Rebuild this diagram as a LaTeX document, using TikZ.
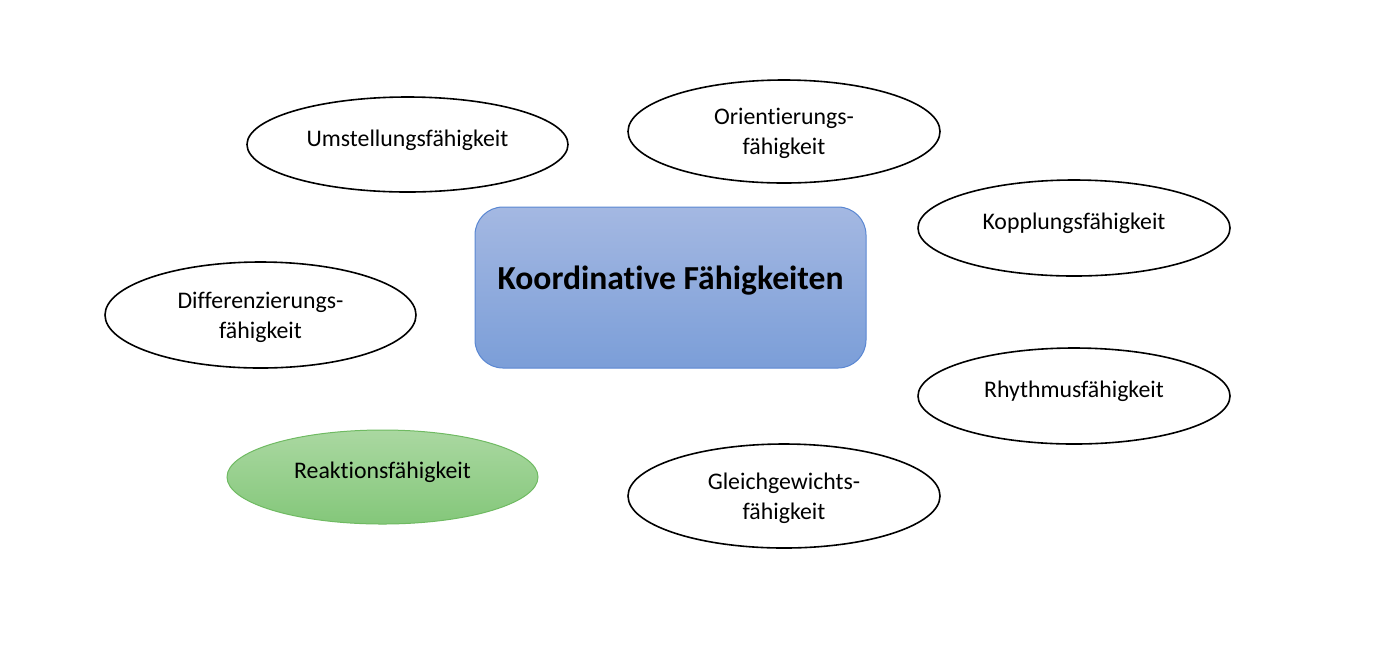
\documentclass[tikz,border=0pt]{standalone}
\usepackage{fontspec}
\setmainfont[Ligatures={NoCommon}]{Carlito}
\usetikzlibrary{shapes.geometric}
\definecolor{boxtop}{HTML}{A4B8E2}
\definecolor{boxbot}{HTML}{7B9ED8}
\definecolor{boxline}{HTML}{5A87D2}
\definecolor{greentop}{HTML}{AAD8A1}
\definecolor{greenbot}{HTML}{84C77A}
\definecolor{greenline}{HTML}{6FBA62}
\newcommand{\twolines}[2]{\begin{tabular}[b]{@{}c@{}}#1\\#2\end{tabular}}
\begin{document}
\begin{tikzpicture}[x=0.5pt,y=-0.5pt,
  oval/.style={ellipse, draw=black, line width=0.8pt, inner sep=0pt, align=center,
     font=\fontsize{11.9pt}{15pt}\selectfont, text height=4pt, text depth=2.5pt},
  twooval/.style={oval, text height=25pt, text depth=2pt},
  greenoval/.style={oval, draw=greenline, line width=0.5pt, top color=greentop, bottom color=greenbot},
  mainbox/.style={rectangle, rounded corners=14pt, draw=boxline, line width=0.5pt,
     top color=boxtop, bottom color=boxbot, inner sep=0pt,
     minimum width=195.5pt, minimum height=80.5pt, text height=4pt, text depth=2.2pt,
     font=\fontsize{16.8pt}{19pt}\selectfont\bfseries}]
\useasboundingbox (0,0) rectangle (1400,644);
\node[mainbox] (main) at (670.5,287.5) {Koordinative Fähigkeiten};
\node[oval, minimum width=160.5pt, minimum height=47.5pt] (umst) at (407.5,144.5) {Umstellungsfähigkeit};
\node[twooval, minimum width=156pt, minimum height=51.5pt] (orient) at (784,131.5) {\twolines{Orientierungs-}{fähigkeit}};
\node[oval, minimum width=156pt, minimum height=48pt] (kopp) at (1074,228) {Kopplungsfähigkeit};
\node[twooval, minimum width=155.5pt, minimum height=53pt] (diff) at (260.5,315) {\twolines{Differenzierungs-}{fähigkeit}};
\node[oval, minimum width=156pt, minimum height=48pt] (rhyth) at (1074,396) {Rhythmusfähigkeit};
\node[greenoval, minimum width=155.5pt, minimum height=47pt] (reak) at (382.5,477) {Reaktionsfähigkeit};
\node[twooval, minimum width=156pt, minimum height=52pt] (gleich) at (784,496) {\twolines{Gleichgewichts-}{fähigkeit}};
\end{tikzpicture}
\end{document}
